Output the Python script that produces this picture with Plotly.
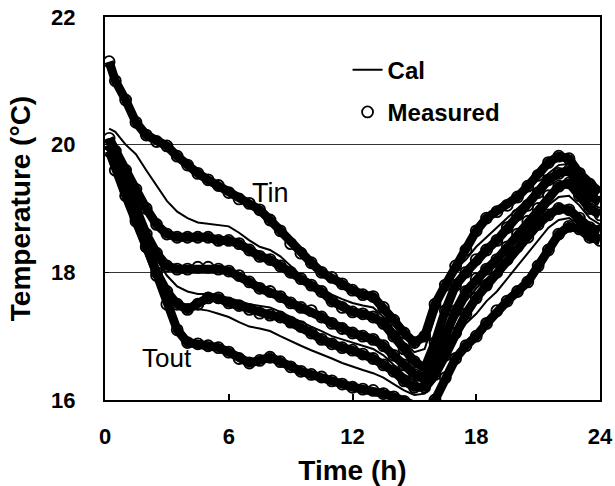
import plotly.graph_objects as go

# Time axis (h)
time_h = [0.2, 0.5, 1.0, 1.5, 2.0, 2.5, 3.0, 3.5, 4.0, 4.5, 5.0, 5.5, 6.0, 6.5, 7.0, 7.5,
          8.0, 8.5, 9.0, 9.5, 10.0, 10.5, 11.0, 11.5, 12.0, 12.5, 13.0, 13.5, 14.0, 14.5,
          15.0, 15.5, 16.0, 16.5, 17.0, 17.5, 18.0, 18.5, 19.0, 19.5, 20.0, 20.5, 21.0,
          21.5, 22.0, 22.5, 23.0, 23.5, 24.0]

# Measured series (circles)
meas_tin = [21.3, 21.0, 20.7, 20.35, 20.15, 20.05, 19.98, 19.82, 19.68, 19.55, 19.45, 19.36,
            19.25, 19.15, 19.08, 18.98, 18.82, 18.65, 18.45, 18.3, 18.15, 18.0, 17.92, 17.82,
            17.72, 17.65, 17.62, 17.45, 17.25, 17.05, 16.9, 17.0, 17.5, 17.8, 18.1, 18.35,
            18.65, 18.85, 18.95, 19.05, 19.18, 19.35, 19.52, 19.72, 19.82, 19.78, 19.55, 19.38, 19.25]
meas_a = [20.1, 19.9, 19.6, 19.3, 19.0, 18.75, 18.6, 18.55, 18.55, 18.55, 18.55, 18.5,
          18.5, 18.45, 18.35, 18.25, 18.2, 18.1, 18.0, 17.9, 17.8, 17.7, 17.55, 17.45,
          17.38, 17.35, 17.3, 17.2, 17.0, 16.8, 16.6, 16.5, 16.9, 17.4, 17.8, 18.0,
          18.2, 18.35, 18.5, 18.7, 18.9, 19.05, 19.25, 19.45, 19.55, 19.6, 19.4, 19.2, 19.1]
meas_b = [20.0, 19.8, 19.4, 19.0, 18.6, 18.3, 18.1, 18.05, 18.05, 18.08, 18.08, 18.05,
          18.02, 17.95, 17.85, 17.75, 17.7, 17.62, 17.52, 17.45, 17.4, 17.3, 17.2, 17.12,
          17.05, 17.0, 16.95, 16.85, 16.7, 16.55, 16.4, 16.35, 16.6, 17.0, 17.4, 17.7,
          17.9, 18.05, 18.2, 18.4, 18.6, 18.8, 19.0, 19.2, 19.35, 19.4, 19.2, 19.0, 18.9]
meas_c = [19.9, 19.6, 19.2, 18.8, 18.4, 18.0, 17.7, 17.5, 17.42, 17.5, 17.6, 17.6,
          17.52, 17.48, 17.42, 17.36, 17.33, 17.3, 17.22, 17.15, 17.05, 16.95, 16.88, 16.82,
          16.78, 16.72, 16.65, 16.55, 16.45, 16.3, 16.2, 16.2, 16.4, 16.7, 17.05, 17.35,
          17.6, 17.8, 18.0, 18.2, 18.4, 18.55, 18.75, 18.9, 19.0, 18.98, 18.85, 18.7, 18.65]
meas_tout = [20.0, 19.8, 19.3, 18.85, 18.4, 17.95, 17.5, 17.1, 16.9, 16.88, 16.85, 16.82,
             16.75, 16.65, 16.58, 16.62, 16.67, 16.6, 16.52, 16.45, 16.4, 16.36, 16.3, 16.25,
             16.2, 16.17, 16.15, 16.1, 16.05, 15.98, 15.9, 15.85, 16.0, 16.35, 16.65, 16.85,
             17.0, 17.2, 17.4, 17.55, 17.7, 17.85, 18.1, 18.35, 18.6, 18.72, 18.68, 18.55, 18.5]

# Calculated series (lines)
cal_1 = [20.25, 20.2, 20.0, 19.85, 19.6, 19.35, 19.12, 18.95, 18.85, 18.78, 18.76, 18.74,
         18.72, 18.62, 18.5, 18.4, 18.35, 18.25, 18.1, 17.95, 17.85, 17.75, 17.65, 17.58,
         17.52, 17.48, 17.45, 17.3, 17.1, 16.9, 16.75, 16.8, 17.3, 17.75, 18.05, 18.2,
         18.4, 18.55, 18.7, 18.85, 19.0, 19.15, 19.35, 19.55, 19.68, 19.7, 19.5, 19.3, 19.15]
cal_2 = [20.05, 19.8, 19.35, 18.95, 18.55, 18.2, 17.95, 17.78, 17.7, 17.66, 17.66, 17.64,
         17.6, 17.55, 17.5, 17.48, 17.45, 17.38, 17.3, 17.22, 17.15, 17.08, 17.0, 16.95,
         16.9, 16.85, 16.8, 16.7, 16.55, 16.4, 16.3, 16.3, 16.55, 16.9, 17.25, 17.55,
         17.75, 17.9, 18.05, 18.25, 18.45, 18.65, 18.85, 19.05, 19.18, 19.2, 19.05, 18.85, 18.75]
cal_3 = [20.0, 19.7, 19.25, 18.85, 18.45, 18.05, 17.75, 17.55, 17.45, 17.42, 17.4, 17.35,
         17.3, 17.22, 17.15, 17.12, 17.08, 17.0, 16.92, 16.85, 16.78, 16.72, 16.65, 16.58,
         16.52, 16.47, 16.42, 16.35, 16.25, 16.15, 16.08, 16.1, 16.3, 16.6, 16.95, 17.2,
         17.35, 17.55, 17.7, 17.9, 18.1, 18.3, 18.5, 18.7, 18.82, 18.85, 18.75, 18.6, 18.55]

measured = [meas_tin, meas_a, meas_b, meas_c, meas_tout]
calculated = [cal_1, cal_2, cal_3]

x_ticks = [0, 6, 12, 18, 24]
y_ticks = [16, 18, 20, 22]

FONT = "Liberation Sans"

fig = go.Figure()

for i, s in enumerate(measured):
    fig.add_trace(go.Scatter(x=time_h, y=s, mode="lines",
                             line=dict(color="black", width=9),
                             showlegend=False, hoverinfo="skip"))
for i, s in enumerate(measured):
    fig.add_trace(go.Scatter(x=time_h, y=s, mode="markers", name="Measured",
                             legendgroup="meas", legendrank=2,
                             marker=dict(symbol="circle-open", size=11, color="black",
                                         line=dict(width=1.8, color="black")),
                             showlegend=(i == 0)))
for i, s in enumerate(calculated):
    fig.add_trace(go.Scatter(x=time_h, y=s, mode="lines", name="Cal",
                             legendgroup="cal", legendrank=1,
                             line=dict(color="black", width=2),
                             showlegend=(i == 0)))

fig.add_annotation(x=8.0, y=19.24, text="Tin", showarrow=False,
                   font=dict(family=FONT, size=27, color="black"))
fig.add_annotation(x=3.0, y=16.66, text="Tout", showarrow=False,
                   font=dict(family=FONT, size=26, color="black"))

fig.update_layout(
    width=615, height=486,
    margin=dict(l=105, r=15, t=17, b=86),
    plot_bgcolor="white", paper_bgcolor="white",
    font=dict(family=FONT, color="black"),
    legend=dict(x=0.49, y=0.92, xanchor="left", yanchor="top",
                bgcolor="rgba(0,0,0,0)", traceorder="grouped", tracegroupgap=8,
                font=dict(family=FONT, size=24, color="black", weight="bold"),
                itemwidth=30),
    xaxis=dict(range=[0, 24], tickvals=x_ticks, ticktext=[str(v) for v in x_ticks],
               ticks="inside", ticklen=6, tickwidth=2, tickcolor="black",
               showline=True, linecolor="black", linewidth=2, mirror=True,
               showgrid=False, zeroline=False, ticklabelstandoff=16, automargin=False,
               tickfont=dict(family=FONT, size=22, weight="bold"),
               title=dict(text="Time (h)", standoff=12,
                          font=dict(family=FONT, size=28, weight="bold"))),
    yaxis=dict(range=[16, 22], tickvals=y_ticks, ticktext=[str(v) for v in y_ticks],
               ticks="inside", ticklen=4, tickwidth=1, tickcolor="black",
               showline=True, linecolor="black", linewidth=2, mirror=True,
               showgrid=True, gridcolor="#333333", gridwidth=1, zeroline=False,
               ticklabelstandoff=23, automargin=False,
               tickfont=dict(family=FONT, size=22, weight="bold"),
               title=dict(text="Temperature (°C)", standoff=12,
                          font=dict(family=FONT, size=28, weight="bold"))),
)

fig.write_html("out.html", config={"displayModeBar": False},
               post_script="document.body.style.margin='0px';")
